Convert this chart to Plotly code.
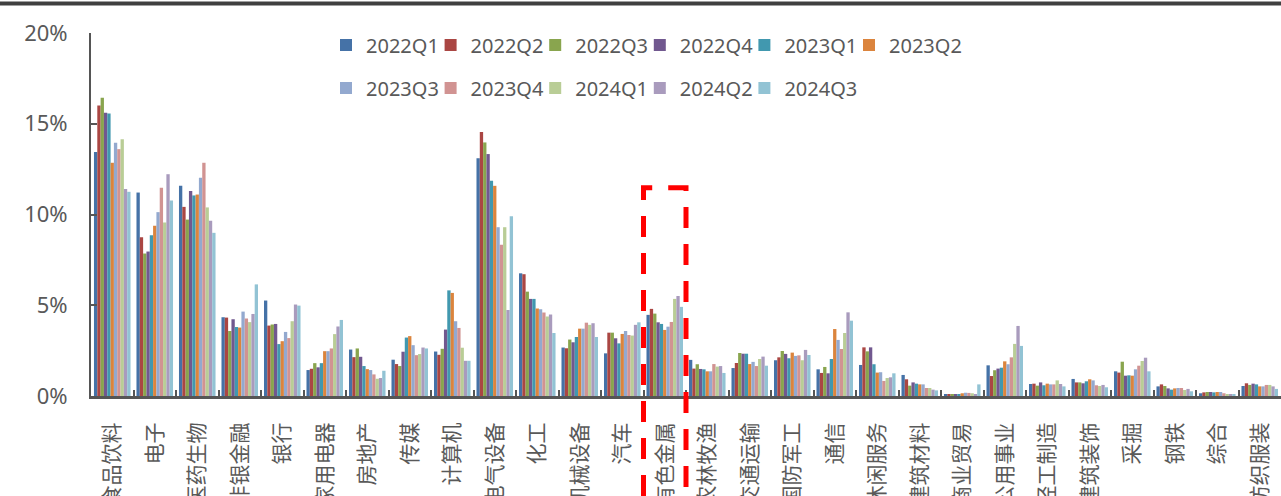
import plotly.graph_objects as go

# industry categories (x axis)
industries = ["食品饮料", "电子", "医药生物", "非银金融", "银行", "家用电器", "房地产",
              "传媒", "计算机", "电气设备", "化工", "机械设备", "汽车", "有色金属",
              "农林牧渔", "交通运输", "国防军工", "通信", "休闲服务", "建筑材料",
              "商业贸易", "公用事业", "轻工制造", "建筑装饰", "采掘", "钢铁", "综合", "纺织服装"]

# holding share (%) per quarter, same order as industries
q2022_1 = [13.44, 11.21, 11.58, 4.34, 5.26, 1.43, 2.56, 2.0, 2.45, 13.1, 6.76, 2.67, 2.35, 4.47,
           1.99, 1.54, 1.97, 1.47, 1.71, 1.16, 0.09, 1.69, 0.66, 0.94, 1.36, 0.53, 0.15, 0.55]
q2022_2 = [16.0, 8.75, 10.42, 4.32, 3.88, 1.5, 2.14, 1.76, 2.27, 14.54, 6.71, 2.63, 3.49, 4.8,
           1.51, 1.82, 2.13, 1.27, 2.68, 0.92, 0.07, 1.1, 0.68, 0.75, 1.29, 0.64, 0.2, 0.7]
q2022_3 = [16.43, 7.85, 9.72, 3.58, 3.94, 1.81, 2.62, 1.65, 2.6, 13.97, 5.75, 3.11, 3.49, 4.54,
           1.75, 2.37, 2.48, 1.6, 2.46, 0.57, 0.06, 1.42, 0.57, 0.75, 1.89, 0.55, 0.22, 0.61]
q2022_4 = [15.6, 7.96, 11.3, 4.23, 3.97, 1.58, 2.16, 2.44, 3.66, 13.33, 5.35, 2.96, 3.18, 4.06,
           1.49, 2.33, 2.32, 1.25, 2.68, 0.75, 0.11, 1.51, 0.75, 0.7, 1.12, 0.42, 0.22, 0.68]
q2023_1 = [15.57, 8.86, 11.05, 3.8, 2.86, 1.81, 1.65, 3.22, 5.82, 11.86, 5.35, 3.25, 2.9, 3.97,
           1.47, 2.33, 2.08, 2.04, 1.75, 0.68, 0.11, 1.56, 0.59, 0.81, 1.14, 0.35, 0.2, 0.64]
q2023_2 = [12.85, 9.38, 11.1, 3.77, 3.02, 2.47, 1.48, 3.3, 5.68, 11.58, 4.82, 3.71, 3.42, 3.64,
           1.36, 1.76, 2.39, 3.69, 1.29, 0.64, 0.15, 1.91, 0.68, 0.92, 1.12, 0.42, 0.22, 0.53]
q2023_3 = [13.95, 10.13, 12.02, 4.65, 3.53, 2.47, 1.43, 2.8, 4.12, 9.3, 4.78, 3.71, 3.58, 3.82,
           1.36, 1.88, 2.21, 3.09, 1.31, 0.64, 0.18, 1.75, 0.64, 0.86, 1.47, 0.44, 0.22, 0.53]
q2023_4 = [13.6, 11.47, 12.85, 4.27, 3.19, 2.62, 1.19, 2.25, 3.75, 8.33, 4.6, 4.04, 3.36, 4.08,
           1.76, 1.65, 2.24, 2.59, 0.83, 0.44, 0.17, 2.13, 0.64, 0.59, 1.67, 0.44, 0.15, 0.61]
q2024_1 = [14.14, 9.56, 10.39, 4.07, 4.12, 3.41, 0.95, 2.31, 2.66, 9.3, 4.38, 3.92, 3.33, 5.35,
           1.62, 2.04, 1.97, 3.47, 0.99, 0.44, 0.15, 2.87, 0.86, 0.55, 1.93, 0.33, 0.11, 0.61]
q2024_2 = [11.4, 12.22, 9.65, 4.52, 5.04, 3.83, 0.99, 2.67, 1.94, 4.74, 4.49, 4.01, 3.92, 5.51,
           1.65, 2.17, 2.54, 4.61, 1.03, 0.35, 0.11, 3.86, 0.66, 0.61, 2.11, 0.39, 0.09, 0.53]
q2024_3 = [11.25, 10.77, 8.99, 6.15, 4.98, 4.19, 1.39, 2.62, 1.94, 9.91, 3.47, 3.25, 4.06, 4.91,
           1.27, 1.67, 2.26, 4.15, 1.25, 0.31, 0.64, 2.76, 0.53, 0.48, 1.36, 0.26, 0.09, 0.39]

quarters = ["2022Q1", "2022Q2", "2022Q3", "2022Q4", "2023Q1", "2023Q2",
            "2023Q3", "2023Q4", "2024Q1", "2024Q2", "2024Q3"]
series = [q2022_1, q2022_2, q2022_3, q2022_4, q2023_1, q2023_2,
          q2023_3, q2023_4, q2024_1, q2024_2, q2024_3]
colors = ["#4572A7", "#AA4643", "#89A54E", "#71588F", "#4198AF", "#DB843D",
          "#93A9CF", "#D19392", "#B9CD96", "#A99BBD", "#92C3D4"]

y_ticks = [0, 5, 10, 15, 20]
y_labels = ["0%", "5%", "10%", "15%", "20%"]

FONT = "Noto Sans, Noto Sans CJK SC, sans-serif"
GREY = "#595959"

fig = go.Figure()
for i, (name, vals) in enumerate(zip(quarters, series)):
    fig.add_trace(go.Bar(
        x=industries, y=vals, name=name,
        marker_color=colors[i], marker_line_width=0,
        legend="legend" if i < 6 else "legend2",
    ))

# blank spacer entries so the last legend label in each row is not clipped
for lg in ["legend", "legend2"]:
    fig.add_trace(go.Scatter(
        x=[None], y=[None], mode="markers", name=" ",
        marker=dict(color="rgba(0,0,0,0)", size=1, line_width=0),
        legend=lg, hoverinfo="skip",
    ))

legend_common = dict(
    orientation="h", xref="container", yref="container",
    xanchor="left", yanchor="middle",
    font=dict(family=FONT, size=20, color=GREY),
    bgcolor="rgba(0,0,0,0)", borderwidth=0,
    entrywidth=59.6, entrywidthmode="pixels", traceorder="normal",
)

fig.update_layout(
    width=1281, height=496,
    margin=dict(l=91, r=0, t=33, b=100, autoexpand=False),
    paper_bgcolor="white", plot_bgcolor="white",
    barmode="group", bargap=0.14, bargroupgap=0,
    font=dict(family=FONT, color=GREY),
    legend=dict(x=326 / 1281, y=1 - 45 / 496, **legend_common),
    legend2=dict(x=326 / 1281, y=1 - 88 / 496, **legend_common),
    xaxis=dict(
        showline=True, linecolor="#555555", linewidth=3,
        ticks="inside", tickson="boundaries", ticklen=6, tickwidth=2, tickcolor="#555555",
        tickangle=-90, ticklabelstandoff=15,
        tickfont=dict(family=FONT, size=21, color=GREY),
        showgrid=False, zeroline=False, range=[-0.5, 27.5],
    ),
    yaxis=dict(
        range=[0, 20], tickvals=y_ticks, ticktext=y_labels,
        showline=True, linecolor="#555555", linewidth=2,
        ticks="inside", ticklen=6, tickwidth=2, tickcolor="#555555",
        ticklabelstandoff=17,
        tickfont=dict(family=FONT, size=22, color=GREY),
        showgrid=False, zeroline=False,
    ),
)

# dark rule along the top edge
fig.add_shape(type="line", xref="paper", yref="paper",
              x0=-91 / 1190, x1=1, y0=1 + 29.5 / 363, y1=1 + 29.5 / 363,
              line=dict(color="#404040", width=4))

# red dashed highlight around 有色金属 (open path: up the left, across, down the right)
bx0, bx1 = 13 / 28, 14 / 28
btop, bbot = 0.5738, -0.3774
fig.add_shape(type="path", xref="paper", yref="paper",
              path=f"M {bx0},{bbot} L {bx0},{btop} L {bx1},{btop} L {bx1},{bbot}",
              line=dict(color="#FF0000", width=5, dash="21px,16px"),
              layer="above")

fig.write_html("out.html", config={"displayModeBar": False},
               post_script="document.body.style.margin='0';")
